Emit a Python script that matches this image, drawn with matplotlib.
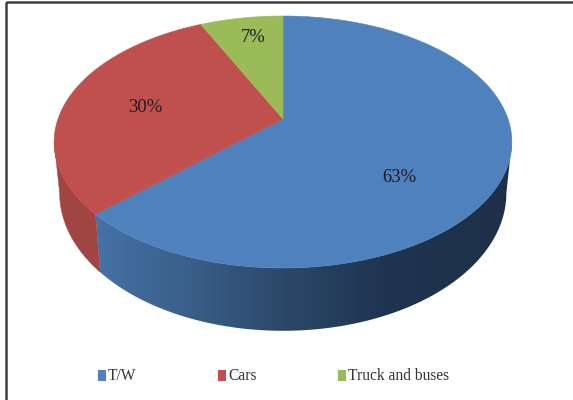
import numpy as np
import matplotlib
matplotlib.use("Agg")
import matplotlib.pyplot as plt
from matplotlib.colors import LinearSegmentedColormap
from matplotlib.patches import Polygon, Rectangle

categories = ["T/W", "Cars", "Truck and buses"]
shares = [63, 30, 7]
share_labels = ["63%", "30%", "7%"]

top_colors = ["#4f81bd", "#c0504d", "#9bbb59"]
label_pos = [(399, 177), (145, 107), (253, 38)]
legend_x = [98, 218, 338]

# pie geometry in pixels, the tilt is a perspective map of the unit circle
APEX = (283, 119)
A, B, K = 225.0, 121.8, 0.1825
# angle of the widest point of the outline, the side stops there
WIDE = np.degrees(np.arcsin(K))


def project(t):
    u, v = np.cos(t), np.sin(t)
    w = 1 + K * v
    return APEX[0] + A * u / w, APEX[1] - B * v / w


def project_bottom(t):
    x, y = project(t)
    depth = 49 + 0.0926 * (y - APEX[1])
    return APEX[0] + (x - APEX[0]) * 0.976, y + depth


def side_outline(t_start, t_end):
    ts = np.radians(np.linspace(t_start, t_end, 200))
    xt, yt = project(ts)
    xb, yb = project_bottom(ts[::-1])
    return list(zip(xt, yt)) + list(zip(xb, yb))


plt.rcParams["font.family"] = ["Liberation Serif", "DejaVu Serif"]
fig = plt.figure(figsize=(5.73, 4), dpi=100)
ax = fig.add_axes([0, 0, 1, 1])

# wedge angles, clockwise from 12 o'clock
edges = 90 - np.cumsum([0] + shares) * 3.6

# sides first, the top surface covers the joins
red_side = Polygon(side_outline(edges[1] + 360, 180 + WIDE), closed=True,
                   facecolor="#a04542", edgecolor="#a04542", linewidth=0.3)
ax.add_patch(red_side)

# blue side shades with x, from the seam to the dark right hand end
side_cmap = LinearSegmentedColormap.from_list(
    "side",
    [(0, "#4672a6"), (0.25, "#385c85"), (0.46, "#2b4768"), (0.69, "#1f3450"), (1, "#1e3048")],
)
side_img = ax.imshow(np.linspace(0, 1, 256).reshape(1, -1), cmap=side_cmap, aspect="auto",
                     extent=(96, 515, 340, 100), interpolation="bilinear")
blue_side = Polygon(side_outline(edges[1], -WIDE), closed=True, transform=ax.transData)
side_img.set_clip_path(blue_side)

ax.set_xlim(0, 573)
ax.set_ylim(400, 0)
ax.axis("off")

for i, color in enumerate(top_colors):
    t = np.radians(np.linspace(edges[i], edges[i + 1], 200))
    x, y = project(t)
    pts = [APEX] + list(zip(x, y))
    ax.add_patch(Polygon(pts, closed=True, facecolor=color, edgecolor=color, linewidth=0.4))

for text, (x, y) in zip(share_labels, label_pos):
    ax.text(x, y, text, fontsize=13.4, color="#1c1c24", ha="center", va="center")

for name, color, x in zip(categories, top_colors, legend_x):
    ax.add_patch(Rectangle((x, 370), 8, 11, facecolor=color, edgecolor="none"))
    ax.text(x + 10, 375.5, name, fontsize=11.2, color="#333333", ha="left", va="center")

# chart border, only top and left fall inside the picture
ax.add_patch(Rectangle((6, 2), 600, 420, fill=False, edgecolor="#404040", linewidth=1.8))

fig.savefig("out.png", dpi=100)
